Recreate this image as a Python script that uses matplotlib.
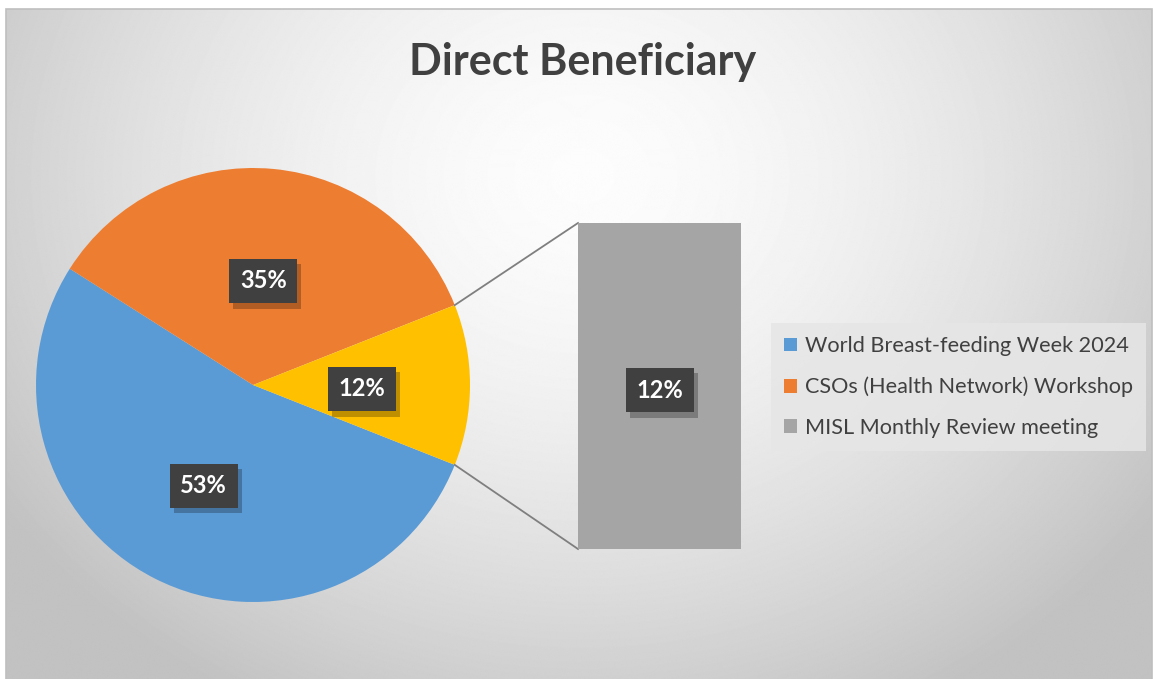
import numpy as np
import matplotlib.pyplot as plt
import matplotlib.patheffects as pe
from matplotlib.patches import Rectangle, Patch
from matplotlib.transforms import offset_copy

plt.rcParams['font.family'] = ['Lato', 'DejaVu Sans']

# data
title = "Direct Beneficiary"
pie_labels = ["World Breast-feeding Week 2024", "CSOs (Health Network) Workshop", "Other"]
pie_values = [53, 35, 12]
pie_colors = ["#5B9BD5", "#ED7D31", "#FFC000"]
bar_labels = ["MISL Monthly Review meeting"]
bar_values = [12]
bar_colors = ["#A5A5A5"]

W, H = 1154, 679
fig = plt.figure(figsize=(W / 100, H / 100), dpi=100)
fig.patch.set_facecolor("white")

# background with a soft radial gradient, pixel coords (y up)
bg = fig.add_axes([0, 0, 1, 1])
bg.set_xlim(0, W)
bg.set_ylim(0, H)
bg.axis("off")
yy, xx = np.mgrid[0:H, 0:W]
d = np.sqrt(((xx - 580) / 720.0) ** 2 + ((yy - (H - 170)) / 620.0) ** 2)
shade = np.clip(0.99 - 0.24 * d ** 1.6, 0.76, 0.99)
bg.imshow(shade, cmap="gray", vmin=0, vmax=1, extent=(6, W - 2, 0, H - 9),
          origin="lower", zorder=0, aspect="auto")
bg.add_patch(Rectangle((6, -2), W - 8, H - 9 + 2, fill=False, ec="#BFBFBF", lw=1.2, zorder=1))

ax = fig.add_axes([0, 0, 1, 1])

cx, cy, R = 253, H - 385, 217
tot = sum(pie_values)
other_ang = 360.0 * pie_values[-1] / tot
start = -other_ang / 2

wedges, _ = ax.pie(pie_values, colors=pie_colors, startangle=start, counterclock=False,
                   center=(cx, cy), radius=R, wedgeprops=dict(linewidth=0), frame=True)
ax.set_xlim(0, W)
ax.set_ylim(0, H)
ax.set_aspect("auto")
ax.axis("off")

# bar of the "other" slice
bx, bw = 659.5, 163
btop, bbot = H - 223, H - 549
bar_scale = (btop - bbot) / sum(bar_values)
bottom = bbot
for v, c in zip(bar_values, bar_colors):
    ax.bar(bx, v * bar_scale, width=bw, bottom=bottom, color=c, linewidth=0, zorder=3)
    bottom += v * bar_scale

# connector lines
a1 = np.deg2rad(other_ang / 2)
p_up = (cx + R * np.cos(a1), cy + R * np.sin(a1))
p_dn = (cx + R * np.cos(a1), cy - R * np.sin(a1))
ax.plot([p_up[0], bx - bw / 2], [p_up[1], btop], color="#7F7F7F", lw=1.3, zorder=2)
ax.plot([p_dn[0], bx - bw / 2], [p_dn[1], bbot], color="#7F7F7F", lw=1.3, zorder=2)

lbl_tr = offset_copy(ax.transData, fig=fig, x=0, y=-4, units="dots")


def box_label(x, y, s):
    t = ax.text(x, y, s, transform=lbl_tr, ha="center", va="center", fontsize=17,
                fontweight="bold", color="white", zorder=5,
                bbox=dict(boxstyle="square,pad=0.45", fc="#404040", ec="none"))
    t.get_bbox_patch().set_path_effects([
        pe.SimplePatchShadow(offset=(3, -4), shadow_rgbFace="black", alpha=0.25),
        pe.Normal()])


# percentage labels on the pie
ang = start
for v in pie_values:
    mid = np.deg2rad(ang - 180.0 * v / tot)
    ang -= 360.0 * v / tot
    rr = 0.5 * R
    box_label(cx + rr * np.cos(mid), cy + rr * np.sin(mid), f"{round(100 * v / tot)}%")

bottom = bbot
for v in bar_values:
    box_label(bx, bottom + v * bar_scale / 2, f"{round(100 * v / tot)}%")
    bottom += v * bar_scale

fig.text(583 / W, 1 - 62 / H, title, ha="center", va="center", fontsize=31,
         fontweight="bold", color="#404040")

handles = [Patch(fc=c, ec="none") for c in pie_colors[:-1] + bar_colors]
names = pie_labels[:-1] + bar_labels
leg = ax.legend(handles, names, loc="center left", bbox_to_anchor=(771 / W, 1 - 387 / H),
                frameon=True, fancybox=False, fontsize=15.6, labelcolor="#404040",
                handlelength=0.6, handleheight=0.6, handletextpad=0.35,
                labelspacing=0.95, borderpad=0.6, borderaxespad=0)
leg.get_frame().set_facecolor("#E6E6E6")
leg.get_frame().set_edgecolor("none")
leg.get_frame().set_alpha(0.85)

fig.savefig("out.png", dpi=100)
